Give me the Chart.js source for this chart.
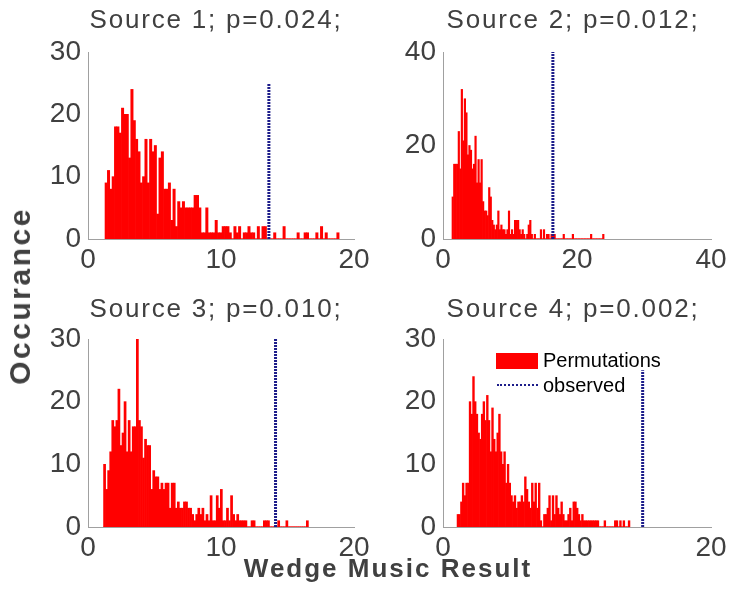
<!DOCTYPE html>
<html>
<head>
<meta charset="utf-8">
<script src="https://cdn.jsdelivr.net/npm/chart.js@4.4.0/dist/chart.umd.min.js"></script>
<style>
  body { margin: 0; width: 730px; height: 594px; background: #fff; position: relative; overflow: hidden;
         font-family: "Liberation Sans", Arial, sans-serif; color: #404040; }
  canvas { position: absolute; }
  .ptitle { position: absolute; font-size: 26px; line-height: 26px; letter-spacing: 1.8px; white-space: nowrap; transform: translateX(-50%); }
  .axtitle { position: absolute; font-weight: bold; white-space: nowrap; }
  #xtitle { font-size: 26px; line-height: 26px; letter-spacing: 2px; left: 388px; top: 555px; transform: translateX(-50%); }
  #ytitle { font-size: 30px; line-height: 30px; letter-spacing: 2.5px; left: 20px; top: 296px; transform: translate(-50%, -50%) rotate(-90deg); }
  .lg-box { position: absolute; left: 496px; top: 353px; width: 42px; height: 16px; background: #ff0000; }
  .lg-line { position: absolute; left: 497px; top: 384px; width: 41px; border-top: 2px dotted #1c1c8a; }
  .lg-text { position: absolute; left: 543px; font-size: 20px; line-height: 20px; white-space: nowrap; color: #000; }
</style>
</head>
<body>
<canvas id="c1"></canvas>
<canvas id="c2"></canvas>
<canvas id="c3"></canvas>
<canvas id="c4"></canvas>
<script>
  // ---- data ----
  const panelTitles = ["Source 1; p=0.024;", "Source 2; p=0.012;", "Source 3; p=0.010;", "Source 4; p=0.002;"];
  const xTitle = "Wedge Music Result";
  const yTitle = "Occurance";
  const legendLabels = ["Permutations", "observed"];

  // histogram counts, 100 bins per source
  const counts1 = [9,11,8,10,18,18,17,21,20,20, 13,24,19,16,14,9,10,16,9,16,
                   14,15,4,13,14,8,8,9,3,8, 2,6,5,6,5,5,5,5,7,7,
                   5,1,1,5,1,1,1,3,1,1, 2,2,2,1,0,2,1,2,0,1,
                   1,2,1,1,0,2,0,2,2,0, 0,0,1,0,0,0,2,0,0,0,
                   0,0,1,0,0,1,1,0,0,0, 1,0,2,0,1,0,0,0,0,1];
  const counts2 = [9,16,16,16,23,15,32,21,30,27, 18,20,19,15,16,22,12,17,12,17,
                   8,6,6,5,11,9,4,3,2,3, 6,2,3,2,2,1,2,6,1,2,
                   1,4,4,4,2,1,2,1,0,1, 3,4,1,0,1,0,0,0,2,0,
                   2,0,1,1,0,1,1,1,0,0, 0,0,0,1,0,0,0,0,0,1,
                   0,0,0,0,0,0,0,0,0,0, 0,1,0,0,0,0,0,0,0,1];
  const counts3 = [10,6,9,12,17,16,17,22,13,15, 20,12,17,12,16,16,30,17,16,11,
                   14,13,13,6,9,8,8,6,7,6, 7,7,3,7,7,3,4,3,3,4,
                   4,3,3,2,1,2,3,2,3,1, 2,1,5,1,1,5,3,6,1,1,
                   3,1,5,2,1,2,1,1,1,1, 0,0,1,1,0,0,0,0,1,1,
                   1,0,0,0,0,1,0,0,0,1, 0,0,0,0,0,0,0,0,0,1];
  const counts4 = [2,2,4,7,5,7,7,20,18,24, 20,18,15,14,18,20,17,21,17,12,
                   19,14,12,15,18,12,10,12,7,10, 7,5,4,5,3,4,4,5,4,8,
                   6,4,3,7,4,7,3,7,1,0, 2,2,3,5,1,5,2,5,3,2,
                   4,2,1,1,2,3,1,4,4,3, 2,1,2,1,1,1,1,1,1,1,
                   1,1,0,0,0,1,0,0,0,0, 0,1,1,0,1,0,1,0,0,1];
  const allCounts = [counts1, counts2, counts3, counts4];
  const binStart = [1.28, 1.34, 1.17, 1.05];
  const binWidth = [0.176, 0.227, 0.154, 0.129];
  const observed = [13.6, 16.4, 14.1, 14.9];
  const observedTop = [25, 40, 30, 25];
  const xMax = [20, 40, 20, 20];
  const xStep = [10, 20, 10, 10];
  const yMax = [30, 40, 30, 30];
  const yStep = [10, 20, 10, 10];

  // plot-area boxes in page pixels
  const plotBoxes = [
    { left: 88, top: 52, w: 266, h: 187 },
    { left: 443, top: 52, w: 268, h: 187 },
    { left: 88, top: 339, w: 266, h: 188 },
    { left: 443, top: 339, w: 268, h: 188 }
  ];
  const titleCenters = [[216, 6], [573, 6], [216, 295], [573, 295]];

  const FONT = "'Liberation Sans', Arial, sans-serif";
  const INK = "#404040";
  const AXIS = "#a0a0a0";
  const PADL = 60, PADT = 20, PADR = 20, XAXH = 45;

  function addText(cls, text, left, top, id) {
    const d = document.createElement("div");
    d.className = cls;
    if (id) d.id = id;
    d.textContent = text;
    if (left != null) d.style.left = left + "px";
    if (top != null) d.style.top = top + "px";
    document.body.appendChild(d);
    return d;
  }

  allCounts.forEach(function(counts, p) {
    const box = plotBoxes[p];
    const cv = document.getElementById("c" + (p + 1));
    cv.width = box.w + PADL + PADR;
    cv.height = box.h + PADT + XAXH;
    cv.style.left = (box.left - PADL) + "px";
    cv.style.top = (box.top - PADT) + "px";

    const bars = counts.map(function(c, i) {
      return { x: binStart[p] + (i + 0.5) * binWidth[p], y: c };
    });
    const lastEdge = binStart[p] + counts.length * binWidth[p];

    new Chart(cv, {
      type: "bar",
      data: {
        datasets: [
          {
            type: "line",
            data: [{ x: binStart[p], y: 0 }, { x: lastEdge, y: 0 }],
            borderColor: "#ff0000", borderWidth: 1, pointRadius: 0, order: 3
          },
          {
            label: legendLabels[0],
            data: bars,
            backgroundColor: "#ff0000",
            borderWidth: 0,
            barPercentage: 1, categoryPercentage: 1,
            order: 2
          },
          {
            type: "line",
            label: legendLabels[1],
            data: [{ x: observed[p], y: 0 }, { x: observed[p], y: observedTop[p] }],
            borderColor: "#1c1c8a", borderWidth: 3, borderDash: [2, 1],
            pointRadius: 0, fill: false, order: 1
          }
        ]
      },
      options: {
        responsive: false, animation: false,
        layout: { padding: { left: 0, top: PADT, right: PADR, bottom: 0 } },
        plugins: { legend: { display: false }, tooltip: { enabled: false } },
        scales: {
          x: {
            type: "linear", offset: false, min: 0, max: xMax[p],
            grid: { display: false, drawTicks: false },
            border: { color: AXIS, width: 1 },
            ticks: { stepSize: xStep[p], maxRotation: 0, padding: 4, color: INK, font: { family: FONT, size: 28 } },
            afterFit: function(s) { s.height = XAXH; s.paddingLeft = 0; s.paddingRight = 0; }
          },
          y: {
            min: 0, max: yMax[p],
            grid: { display: false, drawTicks: false },
            border: { color: AXIS, width: 1 },
            ticks: { stepSize: yStep[p], padding: 7, color: INK, font: { family: FONT, size: 28 } },
            afterFit: function(s) { s.width = PADL; s.paddingTop = 0; s.paddingBottom = 0; }
          }
        }
      }
    });

    addText("ptitle", panelTitles[p], titleCenters[p][0], titleCenters[p][1]);
  });

  addText("axtitle", xTitle, null, null, "xtitle");
  addText("axtitle", yTitle, null, null, "ytitle");

  // legend inside the fourth panel
  const lgBox = document.createElement("div"); lgBox.className = "lg-box"; document.body.appendChild(lgBox);
  const lgLine = document.createElement("div"); lgLine.className = "lg-line"; document.body.appendChild(lgLine);
  addText("lg-text", legendLabels[0], null, 350);
  addText("lg-text", legendLabels[1], null, 375);
</script>
</body>
</html>
